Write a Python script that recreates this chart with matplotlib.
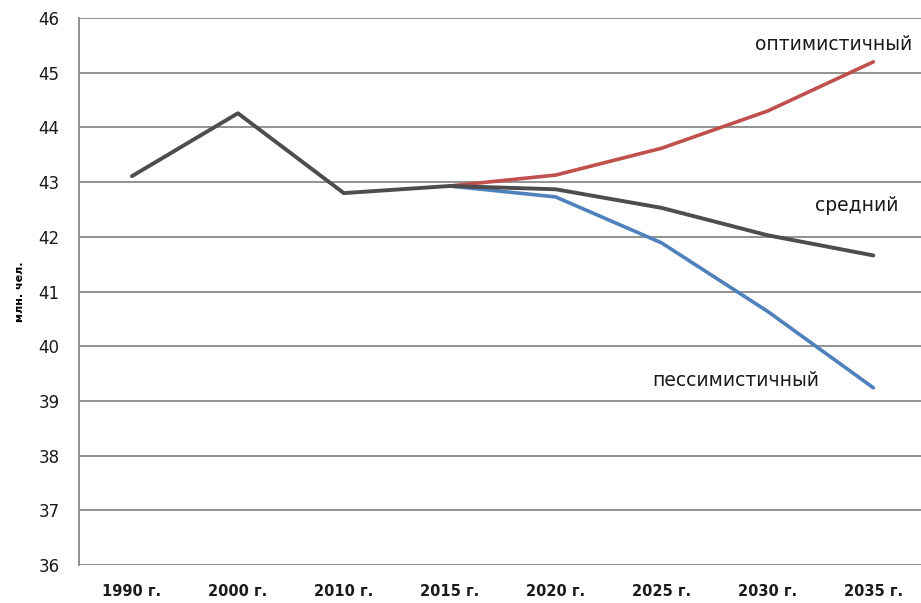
import matplotlib
matplotlib.use("Agg")
import matplotlib.pyplot as plt

# DATA
years = ["1990 г.", "2000 г.", "2010 г.", "2015 г.", "2020 г.", "2025 г.", "2030 г.", "2035 г."]
medium = [43.11, 44.26, 42.80, 42.93, 42.87, 42.53, 42.03, 41.66]
optimistic = [42.93, 43.13, 43.62, 44.30, 45.20]
pessimistic = [42.93, 42.73, 41.89, 40.64, 39.24]
y_ticks = list(range(36, 47))

x = list(range(len(years)))
x_proj = x[3:]

fig = plt.figure(figsize=(9.21, 6.03), dpi=100)
ax = fig.add_axes([0.0858, 0.063, 0.92, 0.907])

# grid and axes
for t in y_ticks:
    ax.axhline(t, color="#919191", lw=1.4, zorder=1)
ax.set_xlim(-0.5, 7.5)
ax.set_ylim(36, 46)
for s in ["top", "right", "bottom"]:
    ax.spines[s].set_visible(False)
ax.spines["left"].set_color("#919191")
ax.spines["left"].set_linewidth(1.4)

# lines
ax.plot(x_proj, pessimistic, color="#4f81bd", lw=2.6, zorder=3, solid_capstyle="round")
ax.plot(x_proj, optimistic, color="#c0504d", lw=2.6, zorder=3, solid_capstyle="round")
ax.plot(x, medium, color="#4d4d4d", lw=2.8, zorder=4, solid_capstyle="round")

# labels for scenarios
ax.text(6.62, 45.51, "оптимистичный", fontsize=13.5, ha="center", va="center", color="#1a1a1a")
ax.text(6.84, 42.58, "средний", fontsize=13.5, ha="center", va="center", color="#1a1a1a")
ax.text(5.70, 39.38, "пессимистичный", fontsize=13.5, ha="center", va="center", color="#1a1a1a")

ax.set_xticks(x)
ax.set_xticklabels(years, fontsize=10.5, fontweight="bold", color="#1a1a1a")
ax.set_yticks(y_ticks)
ax.set_yticklabels([str(t) for t in y_ticks], fontsize=12, color="#1a1a1a")
ax.tick_params(axis="both", length=0)
ax.tick_params(axis="y", pad=14)
ax.tick_params(axis="x", pad=14)
ax.set_ylabel("млн. чел.", fontsize=8, fontweight="bold", labelpad=10)

fig.savefig("out.png", dpi=100)
